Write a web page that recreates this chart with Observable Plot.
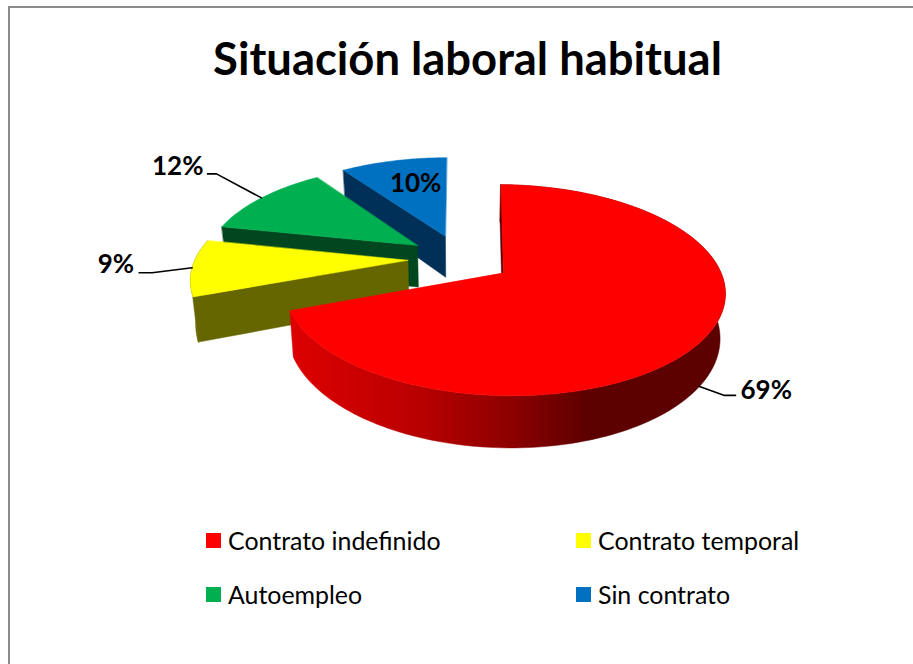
<!DOCTYPE html>
<html lang="es">
<head>
<meta charset="utf-8">
<script src="https://cdn.jsdelivr.net/npm/d3@7"></script>
<script src="https://cdn.jsdelivr.net/npm/@observablehq/plot@0.6"></script>
<style>
  html, body { margin: 0; padding: 0; background: #fff; }
  #frame { position: relative; width: 913px; height: 664px; overflow: hidden; font-family: Lato, sans-serif; color: #000; }
  #border { position: absolute; left: 8px; top: 6px; right: -4px; bottom: -4px; border-left: 2px solid #8c8c8c; border-top: 2px solid #8c8c8c; }
  #title { position: relative; height: 110px; box-sizing: border-box; padding-top: 31px; width: 935px; text-align: center; font-size: 45.4px; line-height: 54px; font-weight: 700; }
  #chart { position: relative; height: 390px; }
  #chart svg { display: block; background: transparent; }
  #legend { position: relative; display: grid; grid-template-columns: 370px 370px; grid-auto-rows: 54px; margin-left: 206px; padding-top: 13px; font-size: 24.9px; line-height: 54px; }
  .item { display: flex; align-items: center; white-space: nowrap; height: 54px; }
  .swatch { width: 15px; height: 15px; margin-right: 7px; flex: none; }
</style>
</head>
<body>
<div id="frame">
  <div id="border"></div>
  <div id="title"></div>
  <div id="chart"></div>
  <div id="legend"></div>
</div>
<script>
const chartTitle = "Situación laboral habitual";
const categories = ["Contrato indefinido", "Contrato temporal", "Autoempleo", "Sin contrato"];
const shares = [69, 9, 12, 10];
const topColors = ["#ff0000", "#ffff00", "#00b050", "#0070c0"];
const sideColors = ["#5c0000", "#666600", "#00471f", "#003057"];
const legendOrder = [0, 1, 2, 3];
const drawOrder = [3, 2, 1, 0];
const frontFacing = [true, true, false, false];

// Camera and pie shape, in pixels of the page
const CX = 459.5, CY = 258, RX = 212.5, RY = 98, PERSP = 0.162, DEPTH = 42.5, SHRINK = 0.98, EXPLODE = 0.245;
const ROTATE = 1.1 * Math.PI / 180;
const LAST_TRIM = 1.3 * Math.PI / 180;
const TOP = 110, W = 913, H = 390;

const arcs = d3.pie().sort(null).startAngle(ROTATE).endAngle(ROTATE + 2 * Math.PI)(shares);

function project(u, v, low) {
  const f = 1 / (1 - PERSP * v);
  let x = CX + RX * u * f;
  let y = CY + RY * v * f;
  if (low) { x = CX + (x - CX) * SHRINK; y += DEPTH * f; }
  return [x, y];
}
const apexOf = a => {
  const m = (a.startAngle + a.endAngle) / 2;
  return [EXPLODE * Math.sin(m), -EXPLODE * Math.cos(m)];
};
const rimOf = (a, t) => {
  const [au, av] = apexOf(a);
  return [au + Math.sin(t), av - Math.cos(t)];
};

const rows = [];
let pid = 0;
function poly(points, color) {
  const id = pid++;
  for (const [x, y] of points) rows.push({id, x, y, color});
}

for (const i of drawOrder) {
  const a = arcs[i];
  const [au, av] = apexOf(a);
  const end = i === arcs.length - 1 ? a.endAngle - LAST_TRIM : a.endAngle;
  const steps = Math.max(6, Math.round((end - a.startAngle) * 40));
  const angle = k => a.startAngle + (end - a.startAngle) * k / steps;
  const upper = [], lower = [];
  for (let k = 0; k <= steps; k++) {
    const [u, v] = rimOf(a, angle(k));
    upper.push(project(u, v, false));
    lower.push(project(u, v, true));
  }
  // outer wall, only where it faces the viewer
  if (frontFacing[i]) poly([...upper, ...lower.slice().reverse()], i === 0 ? "url(#redWall)" : sideColors[i]);
  // side wall of the leading edge
  const [su, sv] = rimOf(a, a.startAngle);
  poly([project(su, sv, false), project(au, av, false), project(au, av, true), project(su, sv, true)], sideColors[i]);
  // top face
  poly([project(au, av, false), ...upper], topColors[i]);
}

// Leader lines: start on the rim at the slice's middle angle, then an elbow and a tail
const leaderSetup = [
  {i: 0, low: true,  elbow: [25, 9],   tail: 11, lx: 5,  ly: -5},
  {i: 1, low: false, elbow: [-40, 5],  tail: -13, lx: -5, ly: -8},
  {i: 2, low: false, elbow: [-45, -24], tail: -9, lx: -4, ly: -7}
];
const leaders = [];
const labels = [];
leaderSetup.forEach(({i, low, elbow, tail, lx, ly}) => {
  const a = arcs[i];
  const m = (a.startAngle + a.endAngle) / 2;
  const [u, v] = rimOf(a, m);
  const p = project(u, v, low);
  const e = [p[0] + elbow[0], p[1] + elbow[1]];
  const t = [e[0] + tail, e[1]];
  for (const q of [p, e, t]) leaders.push({i, x: q[0], y: q[1]});
  labels.push({text: shares[i] + "%", x: t[0] + lx, y: t[1] + ly, anchor: tail > 0 ? "start" : "end"});
});
{
  // the small slice's label sits on its own face
  const a = arcs[3];
  const m = (a.startAngle + a.endAngle) / 2;
  const [u, v] = rimOf(a, m);
  const [au, av] = apexOf(a);
  const p = project(au + (u - au) * 0.66 + 0.025, av + (v - av) * 0.66);
  labels.push({text: shares[3] + "%", x: p[0], y: p[1], anchor: "middle"});
}

document.getElementById("title").textContent = chartTitle;

const wallStops = [[296, "#dc0000"], [420, "#b80000"], [513, "#8b0000"], [590, "#5c0000"]];

const plot = Plot.plot({
  width: W, height: H,
  margin: 0,
  x: {axis: null, domain: [0, W], range: [0, W]},
  y: {axis: null, domain: [TOP, TOP + H], range: [0, H]},
  color: {type: "identity"},
  marks: [
    () => {
      const defs = d3.create("svg:defs");
      const [x0, x1] = [wallStops[0][0], wallStops[wallStops.length - 1][0]];
      const g = defs.append("linearGradient").attr("id", "redWall")
        .attr("gradientUnits", "userSpaceOnUse")
        .attr("x1", x0).attr("x2", x1).attr("y1", 0).attr("y2", 0);
      for (const [x, c] of wallStops) g.append("stop").attr("offset", (x - x0) / (x1 - x0)).attr("stop-color", c);
      return defs.node();
    },
    Plot.line(rows, {x: "x", y: "y", z: "id", fill: "color", stroke: "color", strokeWidth: 0.5, curve: "linear-closed"}),
    Plot.line(leaders, {x: "x", y: "y", z: "i", stroke: "#000", strokeWidth: 1.6}),
    ...["start", "end", "middle"].map(anchor => Plot.text(labels.filter(d => d.anchor === anchor), {
      x: "x", y: "y", text: "text", textAnchor: anchor, lineAnchor: "middle",
      fontFamily: "Lato, sans-serif", fontWeight: 700, fontSize: 26, fill: "#000"
    }))
  ]
});
document.getElementById("chart").appendChild(plot);

const legend = document.getElementById("legend");
for (const i of legendOrder) {
  const item = document.createElement("div");
  item.className = "item";
  const sw = document.createElement("span");
  sw.className = "swatch";
  sw.style.background = topColors[i];
  const tx = document.createElement("span");
  tx.textContent = categories[i];
  item.append(sw, tx);
  legend.appendChild(item);
}
</script>
</body>
</html>
